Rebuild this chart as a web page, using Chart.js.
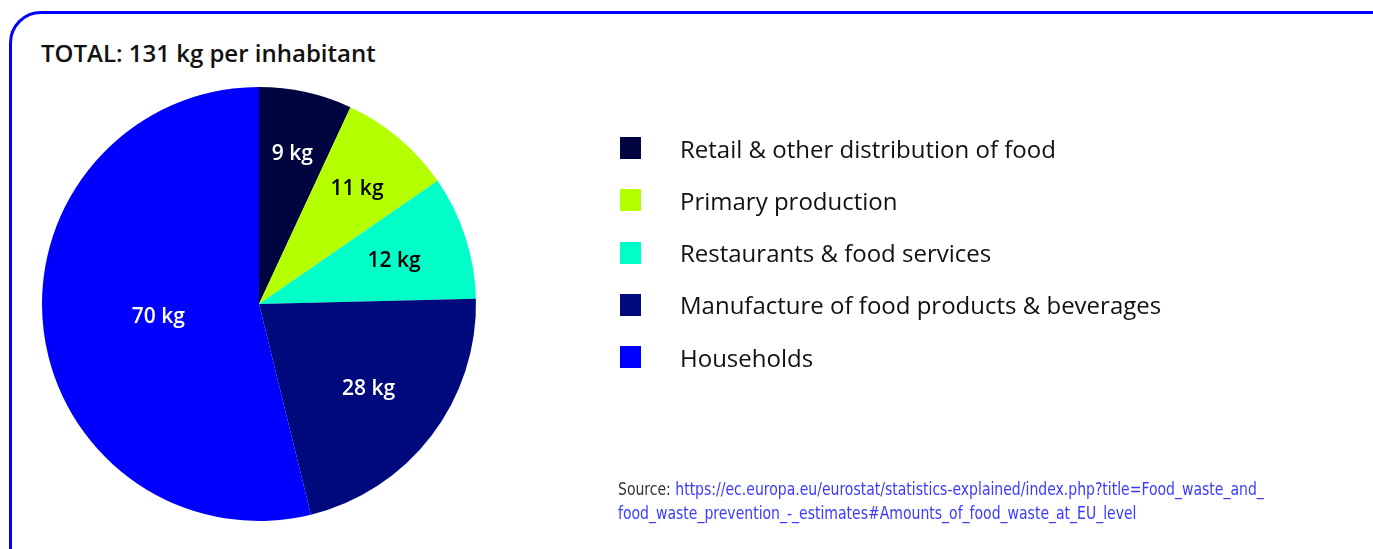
<!DOCTYPE html>
<html>
<head>
<meta charset="utf-8">
<script src="https://cdn.jsdelivr.net/npm/chart.js@4/dist/chart.umd.min.js"></script>
<style>
  html, body { margin:0; padding:0; background:#fff; width:1373px; height:549px; overflow:hidden; font-family:"Open Sans", sans-serif; }
  #frame { position:absolute; left:9px; top:11px; width:1500px; height:700px; border:3px solid #0000ff; border-radius:32px; box-sizing:border-box; }
  #title { position:absolute; left:41px; top:36px; font-size:24px; font-weight:600; color:#111; line-height:34px; white-space:nowrap; }
  #wrap { position:absolute; left:0; top:0; width:1373px; height:549px; }
  #legend { position:absolute; left:620px; top:122px; }
  .row { height:52.25px; display:flex; align-items:center; }
  .sw { width:21px; height:22px; margin-right:39px; }
  .lt { font-size:24px; color:#111; white-space:nowrap; }
  #source { position:absolute; left:618px; top:477px; font-family:"Liberation Sans Narrow","DejaVu Sans Condensed",sans-serif; font-size:17px; line-height:24px; color:#333; white-space:nowrap; transform:scaleX(0.916); transform-origin:0 0; }
  #source a { color:#3a3aff; text-decoration:none; }
</style>
</head>
<body>
<div id="frame"></div>
<div id="title">TOTAL: 131 kg per inhabitant</div>
<div id="wrap"><canvas id="c" width="1373" height="549"></canvas></div>
<div id="legend"></div>
<div id="source">Source: <a>https://ec.europa.eu/eurostat/statistics-explained/index.php?title=Food_waste_and_</a><br><a>food_waste_prevention_-_estimates#Amounts_of_food_waste_at_EU_level</a></div>
<script>
const categories = ["Retail & other distribution of food","Primary production","Restaurants & food services","Manufacture of food products & beverages","Households"];
const values = [9, 11, 12, 28, 70];
const valueLabels = ["9 kg","11 kg","12 kg","28 kg","70 kg"];
const colors = ["#00053f","#b4ff00","#00ffc8","#000a7d","#0000ff"];
const labelColors = ["#ffffff","#000000","#000000","#ffffff","#ffffff"];
const labelRadius = [0.714, 0.70, 0.655, 0.635, 0.467];

const lg = document.getElementById('legend');
categories.forEach((c,i)=>{
  const r = document.createElement('div'); r.className='row';
  r.innerHTML = '<div class="sw" style="background:'+colors[i]+'"></div><div class="lt"></div>';
  r.querySelector('.lt').textContent = c;
  lg.appendChild(r);
});

const sliceLabels = {
  id:'sliceLabels',
  afterDatasetsDraw(chart){
    const ctx = chart.ctx;
    const meta = chart.getDatasetMeta(0);
    ctx.save();
    ctx.font = '600 21px "Open Sans"';
    ctx.textAlign='center'; ctx.textBaseline='middle';
    meta.data.forEach((arc,i)=>{
      const p = arc.getProps(['x','y','startAngle','endAngle','outerRadius'], true);
      const mid = (p.startAngle+p.endAngle)/2;
      const r = p.outerRadius*labelRadius[i];
      ctx.fillStyle = labelColors[i];
      ctx.fillText(valueLabels[i], p.x+Math.cos(mid)*r, p.y+Math.sin(mid)*r+1);
    });
    ctx.restore();
  }
};

new Chart(document.getElementById('c'), {
  type:'pie',
  data:{ labels:categories, datasets:[{ data:values, backgroundColor:colors, borderWidth:0 }] },
  options:{
    responsive:false, animation:false,
    layout:{ padding:{ left:42, top:87, right:897, bottom:28 } },
    plugins:{ legend:{display:false}, tooltip:{enabled:false}, title:{display:false} }
  },
  plugins:[sliceLabels]
});
</script>
</body>
</html>
